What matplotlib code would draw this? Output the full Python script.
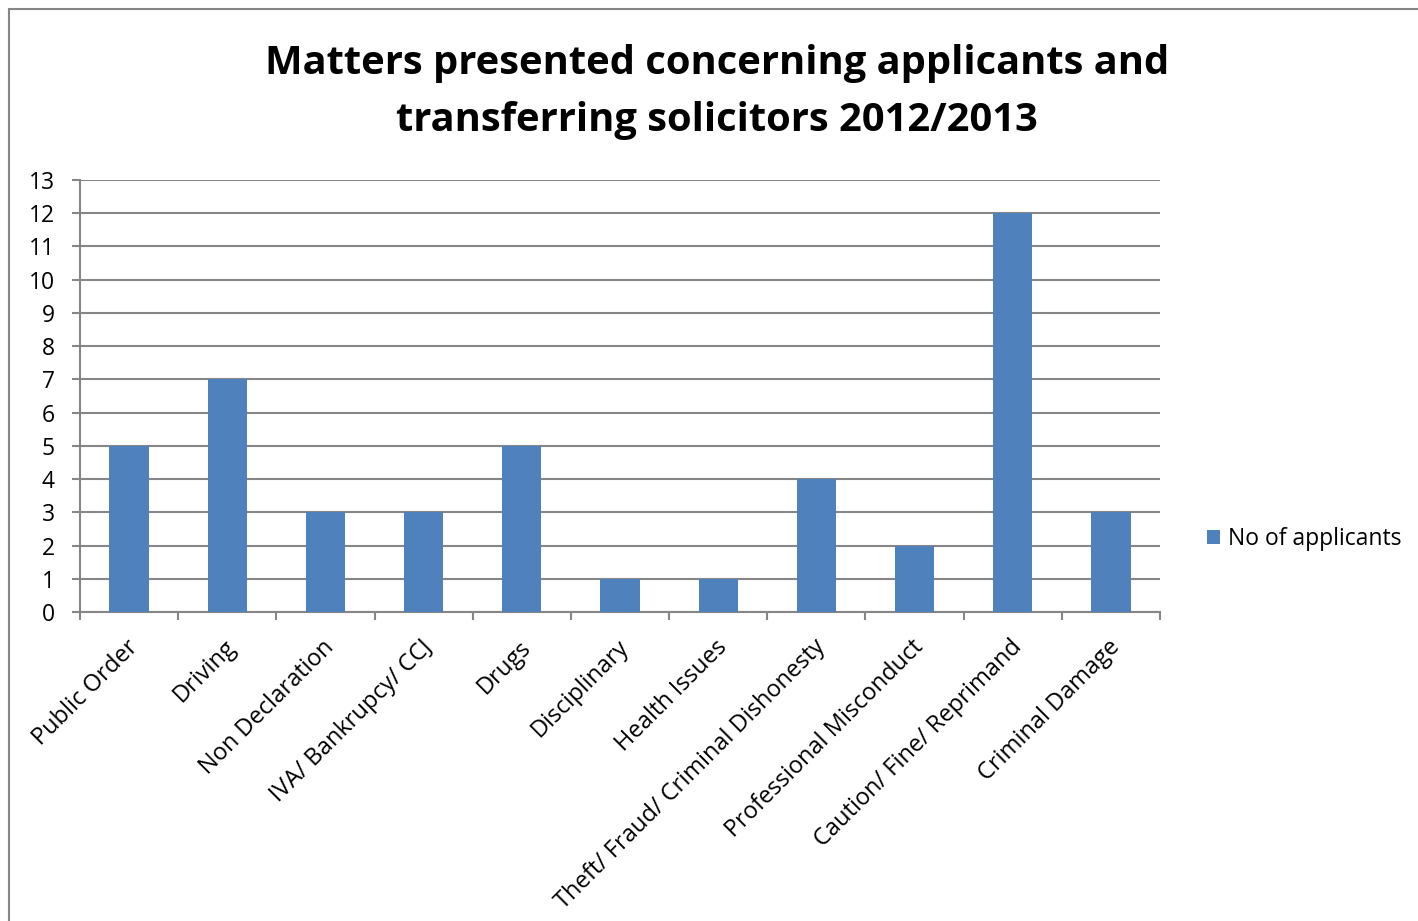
import matplotlib
matplotlib.use('Agg')
import matplotlib.pyplot as plt
from matplotlib.patches import Rectangle

categories = ['Public Order', 'Driving', 'Non Declaration', 'IVA/ Bankrupcy/ CCJ',
              'Drugs', 'Disciplinary', 'Health Issues', 'Theft/ Fraud/ Criminal Dishonesty',
              'Professional Misconduct', 'Caution/ Fine/ Reprimand', 'Criminal Damage']
applicants = [5, 7, 3, 3, 5, 1, 1, 4, 2, 12, 3]
yticks = list(range(0, 14))

plt.rcParams['font.family'] = ['Open Sans', 'DejaVu Sans']
grey = '#868686'
blue = '#4F81BD'

fig = plt.figure(figsize=(14.18, 9.21), dpi=100)
# chart border (cut off at right and bottom like the original)
fig.patches.append(Rectangle((8.5 / 1418, -0.01), 1.1, 1 - 9.5 / 921 + 0.01,
                             transform=fig.transFigure, fill=False,
                             edgecolor=grey, linewidth=1.5))

ax = fig.add_axes([80 / 1418, 1 - 612 / 921, 1080 / 1418, 432 / 921])
xs = list(range(len(categories)))
ax.bar(xs, applicants, width=0.4, color=blue, label='No of applicants', zorder=3)

ax.set_xlim(-0.5, len(categories) - 0.5)
ax.set_ylim(0, 13)
ax.set_yticks(yticks)
ax.set_yticklabels([str(v) for v in yticks], fontsize=16.5)
ax.yaxis.grid(True, color=grey, linewidth=1.5, zorder=0)
ax.set_axisbelow(True)

ax.set_xticks([x + 0.5 for x in xs[:-1]] + [-0.5, len(categories) - 0.5])
ax.set_xticklabels([])
ax.tick_params(axis='x', direction='out', length=6, width=1.5, color=grey)
ax.tick_params(axis='y', direction='out', length=6, width=1.5, color=grey, pad=12)
for x, name in zip(xs, categories):
    ax.text(x - 0.03, -0.7, name, rotation=45, ha='right', va='top',
            rotation_mode='anchor', fontsize=17, transform=ax.transData)

for side in ['top', 'right']:
    ax.spines[side].set_visible(False)
for side in ['left', 'bottom']:
    ax.spines[side].set_color(grey)
    ax.spines[side].set_linewidth(1.5)

fig.text(717 / 1418, 1 - 92 / 921,
         'Matters presented concerning applicants and\ntransferring solicitors 2012/2013',
         ha='center', va='center', fontsize=28.7, fontweight='bold', linespacing=1.62)

fig.legend(loc='center left', bbox_to_anchor=(1186 / 1418, 1 - 539 / 921),
           frameon=False, fontsize=16.5, handlelength=0.6, handleheight=0.6,
           handletextpad=0.35)

fig.savefig('out.png', dpi=100)
